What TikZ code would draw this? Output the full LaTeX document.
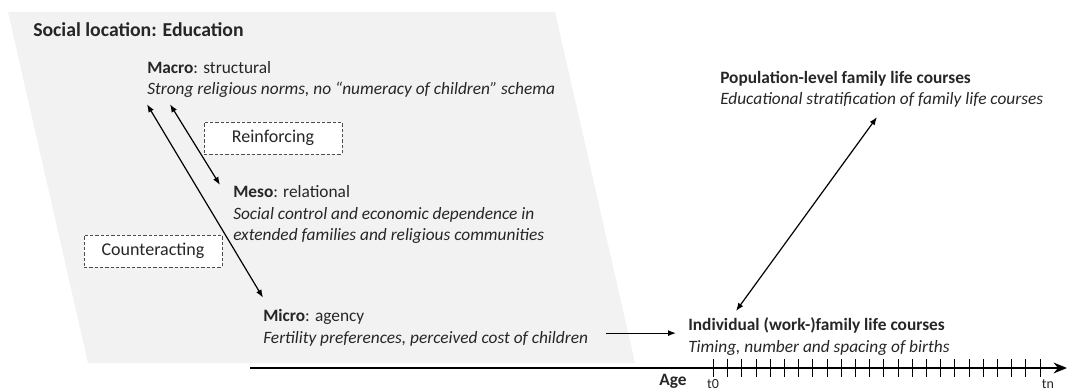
\documentclass[tikz,border=0pt]{standalone}
\usepackage{fontspec}
\setmainfont{Carlito}
\usetikzlibrary{
    arrows.meta,
    positioning,
    calc
}

\begin{document}
\begin{tikzpicture}[
    x=0.75pt, y=-0.75pt,
    level/.style={anchor=base west, align=left, inner sep=0pt,
                  font=\fontsize{13}{16.4}\selectfont, text=black!85},
    relation/.style={rectangle, draw=black!70, dashed, dash pattern=on 2.5pt off 1.5pt,
                     fill=white, minimum width=103.5pt, minimum height=24pt,
                     font=\fontsize{13.5}{15}\selectfont, text=black!85},
    link/.style={{Latex[length=6pt,width=4.5pt]}-{Latex[length=6pt,width=4.5pt]}, line width=0.9pt},
    oneway/.style={-{Latex[length=6pt,width=4.5pt]}, line width=0.9pt},
    axis/.style={-{Stealth[length=10pt,width=8pt]}, line width=1.8pt},
    tick/.style={line width=0.75pt}
]
    \useasboundingbox (0,0) rectangle (1069,391);

    % Social location background
    \fill[black!5] (8,12) -- (555,12) -- (635,363) -- (88,363) -- cycle;
    \node (title) [level, font=\fontsize{14.8}{17}\selectfont\bfseries] at (33,37) {Social location: Education};

    % Levels (anchored at the baseline of the last line)
    \node (macro) [level] at (147,95) {\textbf{Macro}: structural\\
        \textit{Strong religious norms, no “numeracy of children” schema}};
    \node (meso) [level] at (233,241) {\textbf{Meso}: relational\\
        \textit{Social control and economic dependence in}\\
        \textit{extended families and religious communities}};
    \node (micro) [level] at (263,343) {\textbf{Micro}: agency\\
        \textit{Fertility preferences, perceived cost of children}};

    % Outcomes
    \node (individual) [level] at (688,352) {\textbf{Individual (work-)family life courses}\\
        \textit{Timing, number and spacing of births}};
    \node (population) [level] at (720,105) {\textbf{Population-level family life courses}\\
        \textit{Educational stratification of family life courses}};

    % Relations
    \node (reinforcing) [relation] at (273,138) {Reinforcing};
    \node (counteracting) [relation] at (153,251) {Counteracting};

    % Connections
    \draw [link] ($(macro.south west)+(23,6)$) -- ($(meso.north west)+(-13,0)$);
    \draw [link] ($(macro.south west)+(0,6)$) -- ($(micro.north west)+(0,-11)$);
    \draw [oneway] ($(micro.east |- individual.west)+(18,-3)$) -- ($(individual.west)+(-12,-3)$);
    \draw [link] ($(population.south west)+(157,9)$) -- ($(individual.north west)+(48,-6)$);

    % Age axis
    \coordinate (axisstart) at (250,368);
    \coordinate (axisend) at (1067,368);
    \draw [axis] (axisstart) -- (axisend);
    \foreach \i in {0,...,23}
        \draw [tick] (713.5+\i*14.2,359) -- (713.5+\i*14.2,377);
    \node (age) [level, font=\fontsize{13}{15}\selectfont\bfseries] at (659,385) {Age};
    \node (t0) [level, anchor=base, font=\fontsize{10.5}{12}\selectfont] at (713,388) {t0};
    \node (tn) [level, anchor=base, font=\fontsize{10.5}{12}\selectfont] at (1048,388) {tn};

\end{tikzpicture}
\end{document}
